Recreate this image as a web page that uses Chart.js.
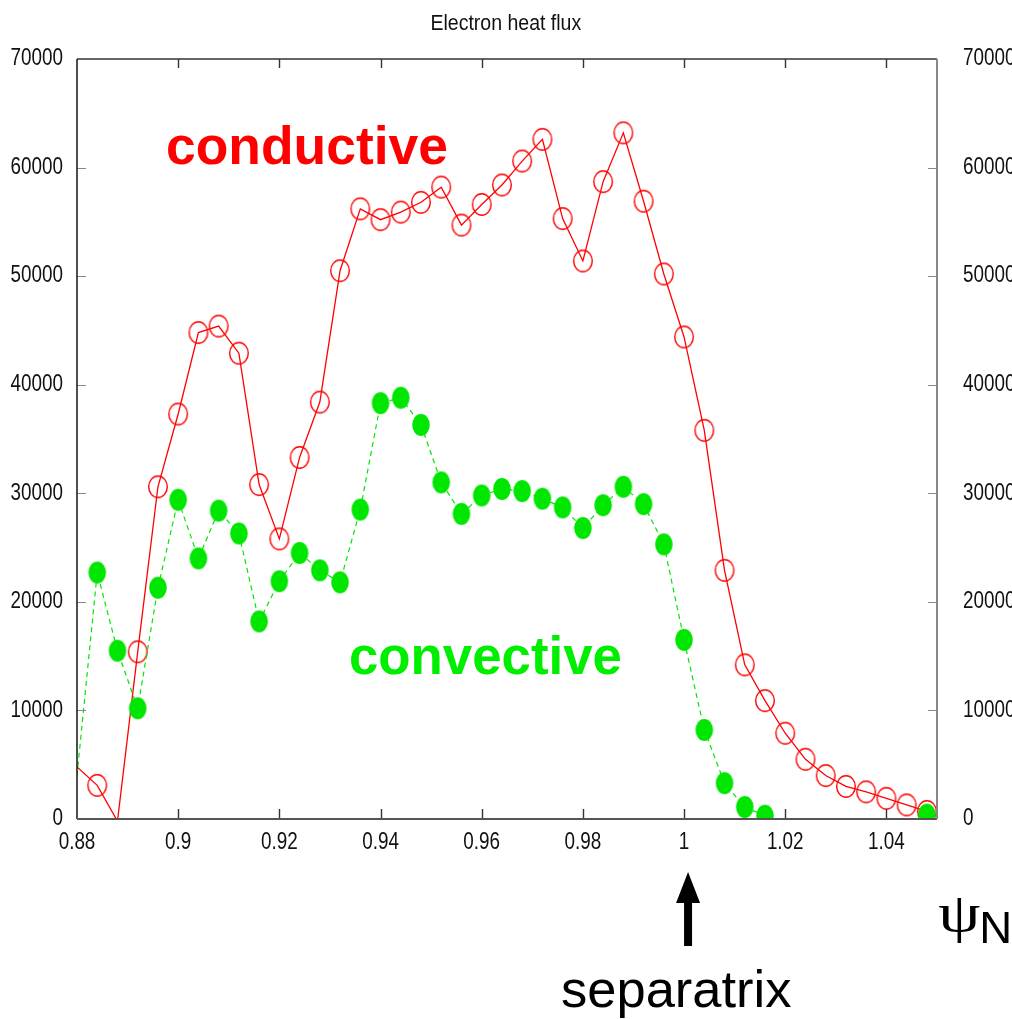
<!DOCTYPE html>
<html>
<head>
<meta charset="utf-8">
<title>Electron heat flux</title>
<script src="https://cdn.jsdelivr.net/npm/chart.js@4.4.1/dist/chart.umd.min.js"></script>
<style>
  html, body { margin: 0; padding: 0; background: #fff; overflow: hidden; }
  #wrap { position: relative; width: 1012px; height: 1019px; }
</style>
</head>
<body>
<div id="wrap"><canvas id="flux" width="1012" height="1019"></canvas></div>
<script>
// normalised flux coordinate of each sample
const psiN = [0.880, 0.884, 0.888, 0.892, 0.896, 0.900, 0.904, 0.908, 0.912, 0.916,
              0.920, 0.924, 0.928, 0.932, 0.936, 0.940, 0.944, 0.948, 0.952, 0.956,
              0.960, 0.964, 0.968, 0.972, 0.976, 0.980, 0.984, 0.988, 0.992, 0.996,
              1.000, 1.004, 1.008, 1.012, 1.016, 1.020, 1.024, 1.028, 1.032, 1.036,
              1.040, 1.044, 1.048];

// conductive part (red, open circles)
const conductive = [4800, 3100, -200, 15400, 30600, 37300, 44800, 45400, 42900, 30800,
                    25800, 33300, 38400, 50500, 56200, 55200, 55900, 56800, 58200, 54700,
                    56600, 58400, 60600, 62600, 55300, 51400, 58700, 63200, 56900, 50200,
                    44400, 35800, 22900, 14200, 10900, 7900, 5500, 4000, 3000, 2500,
                    1900, 1300, 700];

// convective part (green, filled dots) - below zero past 1.016, off the plot
const convective = [4000, 22700, 15500, 10200, 21300, 29400, 24000, 28400, 26300, 18200,
                    21900, 24500, 22900, 21800, 28500, 38300, 38800, 36300, 31000, 28100,
                    29800, 30400, 30200, 29500, 28700, 26800, 28900, 30600, 29000, 25300,
                    16500, 8200, 3300, 1100, 300, -1500, -1500, -1500, -1500, -1500,
                    -1500, -300, 400];

const xTicks = [0.88, 0.9, 0.92, 0.94, 0.96, 0.98, 1, 1.02, 1.04];
const yTicks = [0, 10000, 20000, 30000, 40000, 50000, 60000, 70000];

const SANS = "'Liberation Sans', Arial, sans-serif";
const SERIF = "'Liberation Serif', 'DejaVu Serif', serif";
const SQUEEZE = 0.82;   // gnuplot labels are a condensed face

const RED = '#ff0000';
const GREEN = '#00e600';

// slightly tall ellipses, like the gnuplot markers
function ellipseMarker(rx, ry, fill, stroke, lw) {
  const c = document.createElement('canvas');
  c.width = Math.ceil(rx * 2 + lw + 2);
  c.height = Math.ceil(ry * 2 + lw + 2);
  const g = c.getContext('2d');
  g.beginPath();
  g.ellipse(c.width / 2, c.height / 2, rx, ry, 0, 0, Math.PI * 2);
  if (fill) { g.fillStyle = fill; g.fill(); }
  if (stroke) { g.strokeStyle = stroke; g.lineWidth = lw; g.stroke(); }
  return c;
}
const openCircle = ellipseMarker(9.3, 10.8, null, RED, 1.4);
const dot = ellipseMarker(8.8, 11, GREEN, null, 0);

// first sample sits on the frame and has no marker in the original; nor do values below 0
const markerRadius = c => (c.dataIndex === 0 || c.parsed.y <= 0) ? 0 : 10;

// text fitted to a given width, left edge and baseline
function textByWidth(ctx, text, weight, family, color, left, width, baseline) {
  ctx.font = `${weight} 100px ${family}`;
  let m = ctx.measureText(text);
  const size = 100 * width / (m.actualBoundingBoxLeft + m.actualBoundingBoxRight);
  ctx.font = `${weight} ${size}px ${family}`;
  m = ctx.measureText(text);
  ctx.fillStyle = color;
  ctx.textBaseline = 'alphabetic';
  ctx.textAlign = 'left';
  ctx.fillText(text, left + m.actualBoundingBoxLeft, baseline);
}

// text stretched into an ink box
function textInBox(ctx, text, weight, family, color, left, top, right, bottom) {
  ctx.font = `${weight} 100px ${family}`;
  const m = ctx.measureText(text);
  const w = m.actualBoundingBoxLeft + m.actualBoundingBoxRight;
  const h = m.actualBoundingBoxAscent + m.actualBoundingBoxDescent;
  ctx.save();
  ctx.translate(left, top);
  ctx.scale((right - left) / w, (bottom - top) / h);
  ctx.fillStyle = color;
  ctx.textBaseline = 'alphabetic';
  ctx.textAlign = 'left';
  ctx.fillText(text, m.actualBoundingBoxLeft, m.actualBoundingBoxAscent);
  ctx.restore();
}

function squeezed(ctx, text, x, y, align) {
  ctx.save();
  ctx.translate(x, y);
  ctx.scale(SQUEEZE, 1);
  ctx.textAlign = align;
  ctx.textBaseline = 'middle';
  ctx.fillText(text, 0, 0);
  ctx.restore();
}

const decor = {
  id: 'decor',
  afterDatasetsDraw(chart) {
    const { ctx, chartArea: a, scales } = chart;
    const x = scales.x, y = scales.y;
    ctx.save();
    // inward tick marks
    ctx.lineWidth = 1.4;
    ctx.strokeStyle = '#333';
    xTicks.forEach(v => {
      const px = Math.round(x.getPixelForValue(v)) + 0.5;
      if (px <= a.left + 2) return;
      ctx.beginPath();
      ctx.moveTo(px, a.bottom); ctx.lineTo(px, a.bottom - 10);
      ctx.moveTo(px, a.top); ctx.lineTo(px, a.top + 9);
      ctx.stroke();
    });
    ctx.strokeStyle = '#888';
    ctx.lineWidth = 1.2;
    yTicks.forEach(v => {
      const py = Math.round(y.getPixelForValue(v)) + 0.5;
      if (py >= a.bottom - 2 || py <= a.top + 2) return;
      ctx.beginPath();
      ctx.moveTo(a.left, py); ctx.lineTo(a.left + 9, py);
      ctx.moveTo(a.right, py); ctx.lineTo(a.right - 9, py);
      ctx.stroke();
    });
    // frame
    const side = (x1, y1, x2, y2, col, w) => {
      ctx.beginPath(); ctx.strokeStyle = col; ctx.lineWidth = w;
      ctx.moveTo(x1, y1); ctx.lineTo(x2, y2); ctx.stroke();
    };
    side(a.left, a.top, a.right, a.top, '#333', 1.6);
    side(a.left, a.top, a.left, a.bottom, '#222', 1.6);
    side(a.left, a.bottom, a.right, a.bottom, '#555', 2);
    side(a.right, a.top, a.right, a.bottom, '#888', 2);

    // tick labels, condensed
    ctx.font = `23px ${SANS}`;
    ctx.fillStyle = '#111';
    xTicks.forEach(v => squeezed(ctx, String(+v.toFixed(2)), x.getPixelForValue(v), a.bottom + 24, 'center'));
    yTicks.forEach(v => {
      const py = y.getPixelForValue(v);
      squeezed(ctx, String(v), a.left - 14, py, 'right');
      squeezed(ctx, String(v), a.right + 26, py, 'left');
    });
    ctx.restore();
  },
  afterDraw(chart) {
    const { ctx, scales } = chart;
    ctx.save();
    textInBox(ctx, 'Electron heat flux', 'normal', SANS, '#111', 432, 14, 581, 30);
    textByWidth(ctx, 'conductive', 'bold', SANS, RED, 168, 279, 164);
    textByWidth(ctx, 'convective', 'bold', SANS, '#00ee00', 351, 270, 674);
    textByWidth(ctx, 'separatrix', 'normal', SANS, '#000', 562, 229, 1007);
    textInBox(ctx, 'ψ', 'normal', SERIF, '#000', 939, 898, 980, 942);
    textInBox(ctx, 'N', 'normal', SANS, '#000', 983, 912, 1009, 943);
    // separatrix arrow, just right of psi_N = 1
    const ax = scales.x.getPixelForValue(1) + 4;
    ctx.fillStyle = '#000';
    ctx.beginPath();
    ctx.moveTo(ax, 872);
    ctx.lineTo(ax + 12, 903);
    ctx.lineTo(ax + 4, 903);
    ctx.lineTo(ax + 4, 946);
    ctx.lineTo(ax - 4, 946);
    ctx.lineTo(ax - 4, 903);
    ctx.lineTo(ax - 12, 903);
    ctx.closePath();
    ctx.fill();
    ctx.restore();
  }
};

const fixedTicks = list => scale => { scale.ticks = list.map(v => ({ value: v })); };

new Chart(document.getElementById('flux'), {
  type: 'line',
  data: {
    datasets: [
      {
        label: 'convective',
        data: psiN.map((x, i) => ({ x, y: convective[i] })),
        borderColor: GREEN,
        borderWidth: 1.2,
        borderDash: [5, 4],
        pointStyle: dot,
        pointRadius: markerRadius,
        pointHoverRadius: markerRadius,
        tension: 0,
        fill: false
      },
      {
        label: 'conductive',
        data: psiN.map((x, i) => ({ x, y: conductive[i] })),
        borderColor: RED,
        borderWidth: 1.3,
        pointStyle: openCircle,
        pointRadius: markerRadius,
        pointHoverRadius: markerRadius,
        tension: 0,
        fill: false
      }
    ]
  },
  options: {
    responsive: false,
    animation: false,
    events: [],
    devicePixelRatio: 1,
    layout: { padding: { top: 59, bottom: 160, left: 0, right: 0 } },
    plugins: { legend: { display: false }, title: { display: false }, tooltip: { enabled: false } },
    scales: {
      x: {
        type: 'linear', position: 'bottom', min: 0.88, max: 1.05,
        grid: { display: false }, border: { display: false },
        afterBuildTicks: fixedTicks(xTicks),
        afterFit: s => { s.height = 40; },
        ticks: { display: false }
      },
      y: {
        type: 'linear', position: 'left', min: 0, max: 70000,
        grid: { display: false }, border: { display: false },
        afterBuildTicks: fixedTicks(yTicks),
        afterFit: s => { s.width = 77; },
        ticks: { display: false }
      },
      y2: {
        type: 'linear', position: 'right', min: 0, max: 70000,
        grid: { display: false }, border: { display: false },
        afterBuildTicks: fixedTicks(yTicks),
        afterFit: s => { s.width = 75; },
        ticks: { display: false }
      }
    }
  },
  plugins: [decor]
});
</script>
</body>
</html>
